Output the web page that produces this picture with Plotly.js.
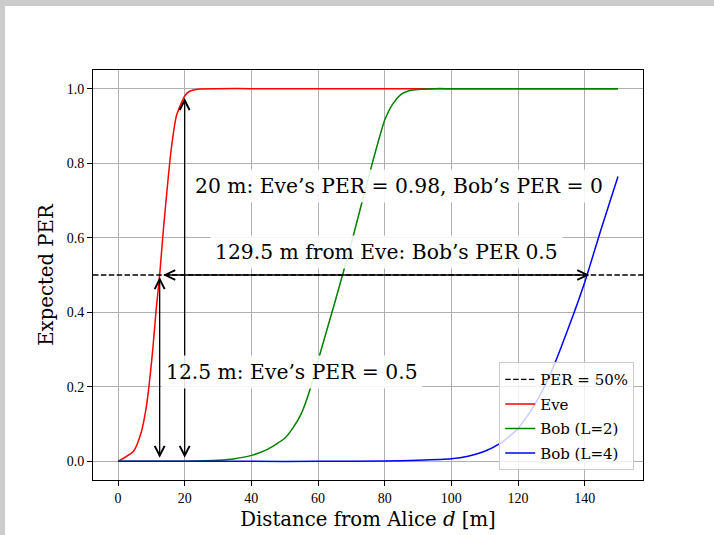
<!DOCTYPE html>
<html>
<head>
<meta charset="utf-8">
<script src="https://cdn.plot.ly/plotly-3.0.1.min.js"></script>
<style>
  html, body { margin: 0; padding: 0; background: #cccccc; width: 714px; height: 535px; overflow: hidden; }
  #chart { position: absolute; left: 5px; top: 6px; width: 709px; height: 529px; background: #ffffff; }
</style>
</head>
<body>
<div id="chart"></div>
<script>
// ---- data ----
const eveD   = [0, 4.7, 7, 8.5, 9.5, 10.5, 11.5, 12.5, 13.5, 15, 16, 17.5, 20, 21.5, 24.5, 30, 40, 60, 80, 100, 120, 150];
const evePer = [0, 0.028, 0.079, 0.146, 0.218, 0.307, 0.412, 0.5, 0.61, 0.755, 0.84, 0.926, 0.98, 0.993, 0.999, 1, 1, 1, 1, 1, 1, 1];

const bob2D   = [0, 10, 20, 30, 35, 40, 45, 50, 52.5, 55, 57.5, 60, 65, 70, 75, 80, 82.5, 85, 87.5, 90, 95, 100, 120, 150];
const bob2Per = [0, 0, 0.0005, 0.003, 0.007, 0.016, 0.033, 0.062, 0.09, 0.128, 0.19, 0.27, 0.425, 0.585, 0.757, 0.915, 0.96, 0.985, 0.995, 0.998, 1, 1, 1, 1];

const bob4D   = [0, 20, 40, 60, 80, 90, 100, 105, 110, 115, 120, 125, 130, 135, 140, 145, 150];
const bob4Per = [0, 0, 0, 0, 0.001, 0.003, 0.007, 0.014, 0.027, 0.05, 0.088, 0.152, 0.24, 0.355, 0.48, 0.625, 0.764];

const threshold = 0.5;
const xTicks = [0, 20, 40, 60, 80, 100, 120, 140];
const yTicks = [0, 0.2, 0.4, 0.6, 0.8, 1.0];
const yTickText = ['0.0', '0.2', '0.4', '0.6', '0.8', '1.0'];

// marker distances
const eveHalfD = 12.5, eveHalfPer = 0.5;
const sepD = 20, sepPer = 0.98;
const bobHalfD = 142, bobHalfPer = 0.5;

// label texts and anchor positions (data coords)
const labelTexts = [
  '20 m: Eve’s PER = 0.98, Bob’s PER = 0',
  '129.5 m from Eve: Bob’s PER 0.5',
  '12.5 m: Eve’s PER = 0.5'
];
const labelX = [84.2, 80.5, 52.2];
const labelY = [0.739, 0.562, 0.239];

const SERIF = '"DejaVu Serif", serif';
const NUMFONT = '"Liberation Serif", serif';

const lineCommon = { width: 1.5, shape: 'spline', smoothing: 0.6 };
const traces = [
  { x: eveD, y: evePer, name: 'Eve', mode: 'lines', line: Object.assign({ color: 'red' }, lineCommon), legendrank: 2, legendgroup: 'g2' },
  { x: bob2D, y: bob2Per, name: 'Bob (L=2)', mode: 'lines', line: Object.assign({ color: 'green' }, lineCommon), legendrank: 3, legendgroup: 'g3' },
  { x: bob4D, y: bob4Per, name: 'Bob (L=4)', mode: 'lines', line: Object.assign({ color: 'blue' }, lineCommon), legendrank: 4, legendgroup: 'g4' }
];

function arrow(x0, y0, x1, y1) {
  return {
    x: x1, y: y1, ax: x0, ay: y0, xref: 'x', yref: 'y', axref: 'x', ayref: 'y',
    text: '', showarrow: true, arrowside: 'end+start', arrowhead: 5, startarrowhead: 5,
    arrowsize: 1.5, startarrowsize: 1.5, arrowwidth: 1.3, arrowcolor: '#000000',
    standoff: 2, startstandoff: 2
  };
}

const annotations = [
  arrow(eveHalfD, 0, eveHalfD, eveHalfPer),
  arrow(sepD, 0, sepD, sepPer),
  arrow(eveHalfD, threshold, bobHalfD, bobHalfPer)
];
labelTexts.forEach((t, i) => {
  annotations.push({
    x: labelX[i], y: labelY[i], xref: 'x', yref: 'y', text: t, showarrow: false,
    font: { family: SERIF, size: 20.3, color: '#000000' },
    bgcolor: 'rgba(255,255,255,0.88)', borderpad: 4, xanchor: 'center', yanchor: 'middle'
  });
});

const layout = {
  width: 709, height: 529,
  margin: { l: 88, r: 71, t: 64, b: 55 },
  paper_bgcolor: '#ffffff', plot_bgcolor: '#ffffff',
  font: { family: SERIF, color: '#000000' },
  showlegend: true,
  xaxis: {
    range: [-7.5, 157.5], tickvals: xTicks, ticks: 'outside', ticklen: 5, tickcolor: '#000',
    showline: true, mirror: true, linecolor: '#000', linewidth: 1,
    showgrid: true, gridcolor: '#b0b0b0', gridwidth: 1, zeroline: false,
    tickfont: { family: NUMFONT, size: 14 },
    title: { text: 'Distance from Alice <i>d</i> [m]', font: { family: SERIF, size: 19.7 }, standoff: 7 }
  },
  yaxis: {
    range: [-0.05, 1.05], tickvals: yTicks, ticktext: yTickText, ticks: 'outside', ticklen: 5, tickcolor: '#000',
    showline: true, mirror: true, linecolor: '#000', linewidth: 1,
    showgrid: true, gridcolor: '#b0b0b0', gridwidth: 1, zeroline: false,
    tickfont: { family: NUMFONT, size: 14 },
    title: { text: 'Expected PER', font: { family: SERIF, size: 19.7 }, standoff: 7 }
  },
  shapes: [{
    type: 'line', xref: 'paper', x0: 0, x1: 1, yref: 'y', y0: threshold, y1: threshold,
    line: { color: '#000', width: 1.3, dash: '5.5px,2.4px' },
    showlegend: true, name: 'PER = 50%', legendrank: 1, legendgroup: 'g1'
  }],
  legend: {
    x: 0.984, y: 0.024, xanchor: 'right', yanchor: 'bottom',
    bgcolor: 'rgba(255,255,255,0.8)', bordercolor: '#cccccc', borderwidth: 1,
    font: { family: SERIF, size: 15 }, traceorder: 'grouped', tracegroupgap: 2
  },
  annotations: annotations
};

Plotly.newPlot('chart', traces, layout, { displayModeBar: false, staticPlot: true });
</script>
</body>
</html>
